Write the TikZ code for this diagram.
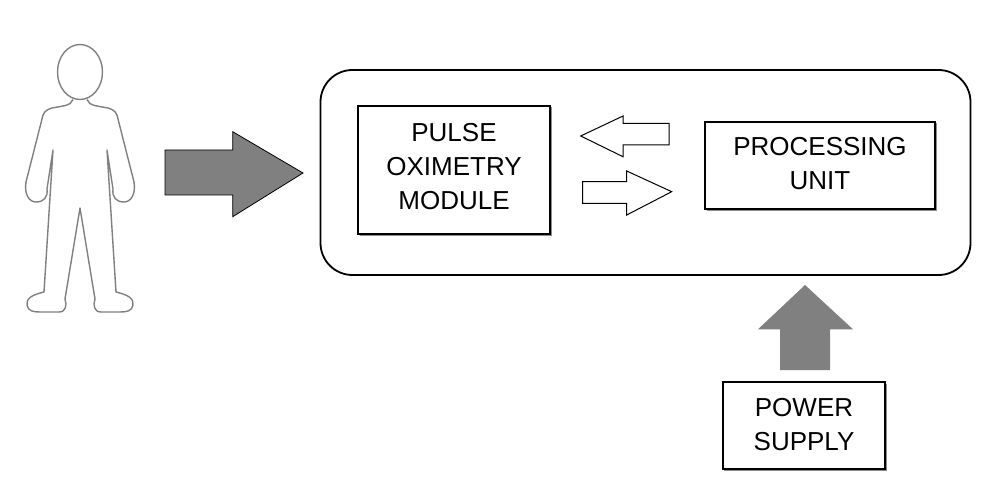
\documentclass[tikz,border=0pt]{standalone}
\usepackage{fontspec}
\setmainfont{Liberation Sans}
\begin{document}
\begin{tikzpicture}[x=1pt,y=-1pt,
  box/.style={draw=black,line width=1.5pt,fill=white,align=center,inner sep=0pt,
    font=\fontsize{26}{34}\selectfont},
  shadowbox/.style={fill=black!45},
  bigarrow/.style={fill=black!50,draw=black,line width=0.8pt,line join=miter},
  smallarrow/.style={fill=white,draw=black,line width=1pt,line join=miter},
  powerarrow/.style={fill=black!50},
  personline/.style={draw=black!50,line width=1.4pt,line join=round}]
\useasboundingbox (0,0) rectangle (999,497);
% person
\draw[personline] (80,72) ellipse [x radius=22.5, y radius=27.5];
\draw[personline]
  (73,99.5) .. controls (71,106) and (62,106) .. (52,108)
  .. controls (45,110) and (43,113) .. (42,119) -- (26,182)
  .. controls (24,194) and (29,202) .. (36,202)
  .. controls (44,202) and (48,197) .. (47,189) -- (53,150)
  -- (44,292) .. controls (31,295) and (26,299) .. (27,305)
  .. controls (28,311) and (33,312) .. (40,312) -- (59,312)
  .. controls (66,312) and (67,305) .. (65,299) -- (80,208)
  -- (95,299) .. controls (93,305) and (94,312) .. (101,312)
  -- (120,312) .. controls (127,312) and (132,311) .. (133,305)
  .. controls (134,299) and (129,295) .. (116,292)
  -- (107,150) -- (113,189)
  .. controls (112,197) and (116,202) .. (124,202)
  .. controls (131,202) and (136,194) .. (134,182)
  -- (118,119) .. controls (117,113) and (115,110) .. (108,108)
  .. controls (98,106) and (89,106) .. (87,99.5);
% container
\node[draw=black,line width=1.8pt,rounded corners=32pt,minimum width=650pt,minimum height=205pt,inner sep=0pt]
  (sys) at (645.5,172.5) {};
% boxes
\fill[shadowbox] (359.5,107.5) rectangle (552,236);
\node[box,minimum width=192pt,minimum height=128pt,text depth=8pt] (pulse) at (454,170) {PULSE\\OXIMETRY\\MODULE};
\fill[shadowbox] (706.5,123.5) rectangle (937,211);
\node[box,minimum width=230pt,minimum height=87pt,text depth=4pt] (proc) at (820,165.5) {PROCESSING\\UNIT};
\fill[shadowbox] (724,383.5) rectangle (887,471);
\node[box,minimum width=162pt,minimum height=87pt,text depth=3pt] (power) at (804,425.5) {POWER\\SUPPLY};
% big input arrow
\draw[bigarrow] (165,150) -- (232.7,150) -- (232.7,131.7) -- (303,173) -- (232.7,216.7) -- (232.7,195) -- (165,195) -- cycle;
% small arrows
\draw[smallarrow] (669,123.3) -- (623,123.3) -- (623,116) -- (580.7,136) -- (623,156.7) -- (623,145) -- (669,145) -- cycle;
\draw[smallarrow] (582.7,181.7) -- (626.7,181.7) -- (626.7,171) -- (671.7,191.7) -- (626.7,215) -- (626.7,203.3) -- (582.7,203.3) -- cycle;
% power arrow
\fill[powerarrow] (780,370) -- (780,329.3) -- (758,329.3) -- (805,285) -- (853,329.3) -- (830,329.3) -- (830,370) -- cycle;
\end{tikzpicture}
\end{document}
